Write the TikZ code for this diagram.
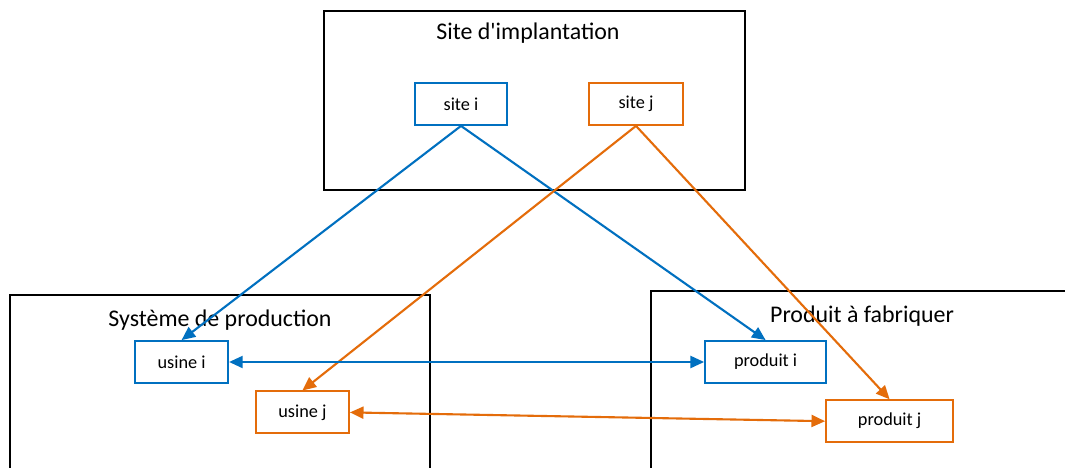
\documentclass[tikz,border=0pt]{standalone}
\usepackage{fontspec}
\setmainfont{Carlito}
\usetikzlibrary{arrows.meta}

\definecolor{bleu}{HTML}{0070C0}
\definecolor{orange}{HTML}{E46C0A}

\tikzset{
  cadre/.style={draw=black, line width=1.3pt},
  titre/.style={font=\fontsize{17}{20}\selectfont},
  boite/.style={draw, line width=1.3pt, minimum height=1.05cm, inner sep=0pt, font=\fontsize{13}{15}\selectfont},
  pointe/.tip={Triangle[length=3.4mm, width=3mm]},
  lien/.style={line width=1.5pt, -pointe},
  lien2/.style={line width=1.5pt, pointe-pointe}
}

\begin{document}
\begin{tikzpicture}

\clip (0,0) rectangle (26.625,-11.7);
\fill[white] (0,0) rectangle (26.625,-11.7);

\draw [cadre] (8.1,-0.275) rectangle (18.625,-4.75);
\draw [cadre] (0.25,-12) -- (0.25,-7.375) -- (10.75,-7.375) -- (10.75,-12);
\draw [cadre] (16.275,-12) -- (16.275,-7.275) -- (27,-7.275);

\node [titre] (tsite) at (13.2,-0.825) {Site d\textquotesingle implantation};
\node [titre] (tprod) at (5.5,-8.0) {Système de production};
\node [titre] (tfab) at (21.55,-7.9) {Produit à fabriquer};

\node [boite, draw=bleu, minimum width=2.3cm] (sitei) at (11.525,-2.6) {site i};
\node [boite, draw=orange, minimum width=2.35cm] (sitej) at (15.9,-2.6) {site j};
\node [boite, draw=bleu, minimum width=2.33cm] (usinei) at (4.54,-9.05) {usine i};
\node [boite, draw=orange, minimum width=2.33cm] (usinej) at (7.56,-10.31) {usine j};
\node [boite, draw=bleu, minimum width=3.03cm] (produiti) at (19.14,-9.05) {produit i};
\node [boite, draw=orange, minimum width=3.18cm] (produitj) at (22.24,-10.53) {produit j};

\draw [lien, bleu] (sitei.south) -- (usinei.north);
\draw [lien, bleu] (sitei.south) -- (produiti.north);
\draw [lien, orange] (sitej.south) -- (usinej.north);
\draw [lien, orange] (sitej.south) -- (produitj.north);
\draw [lien2, bleu] (usinei.east) -- (produiti.west);
\draw [lien2, orange] (usinej.east) -- (produitj.west);

\end{tikzpicture}
\end{document}
